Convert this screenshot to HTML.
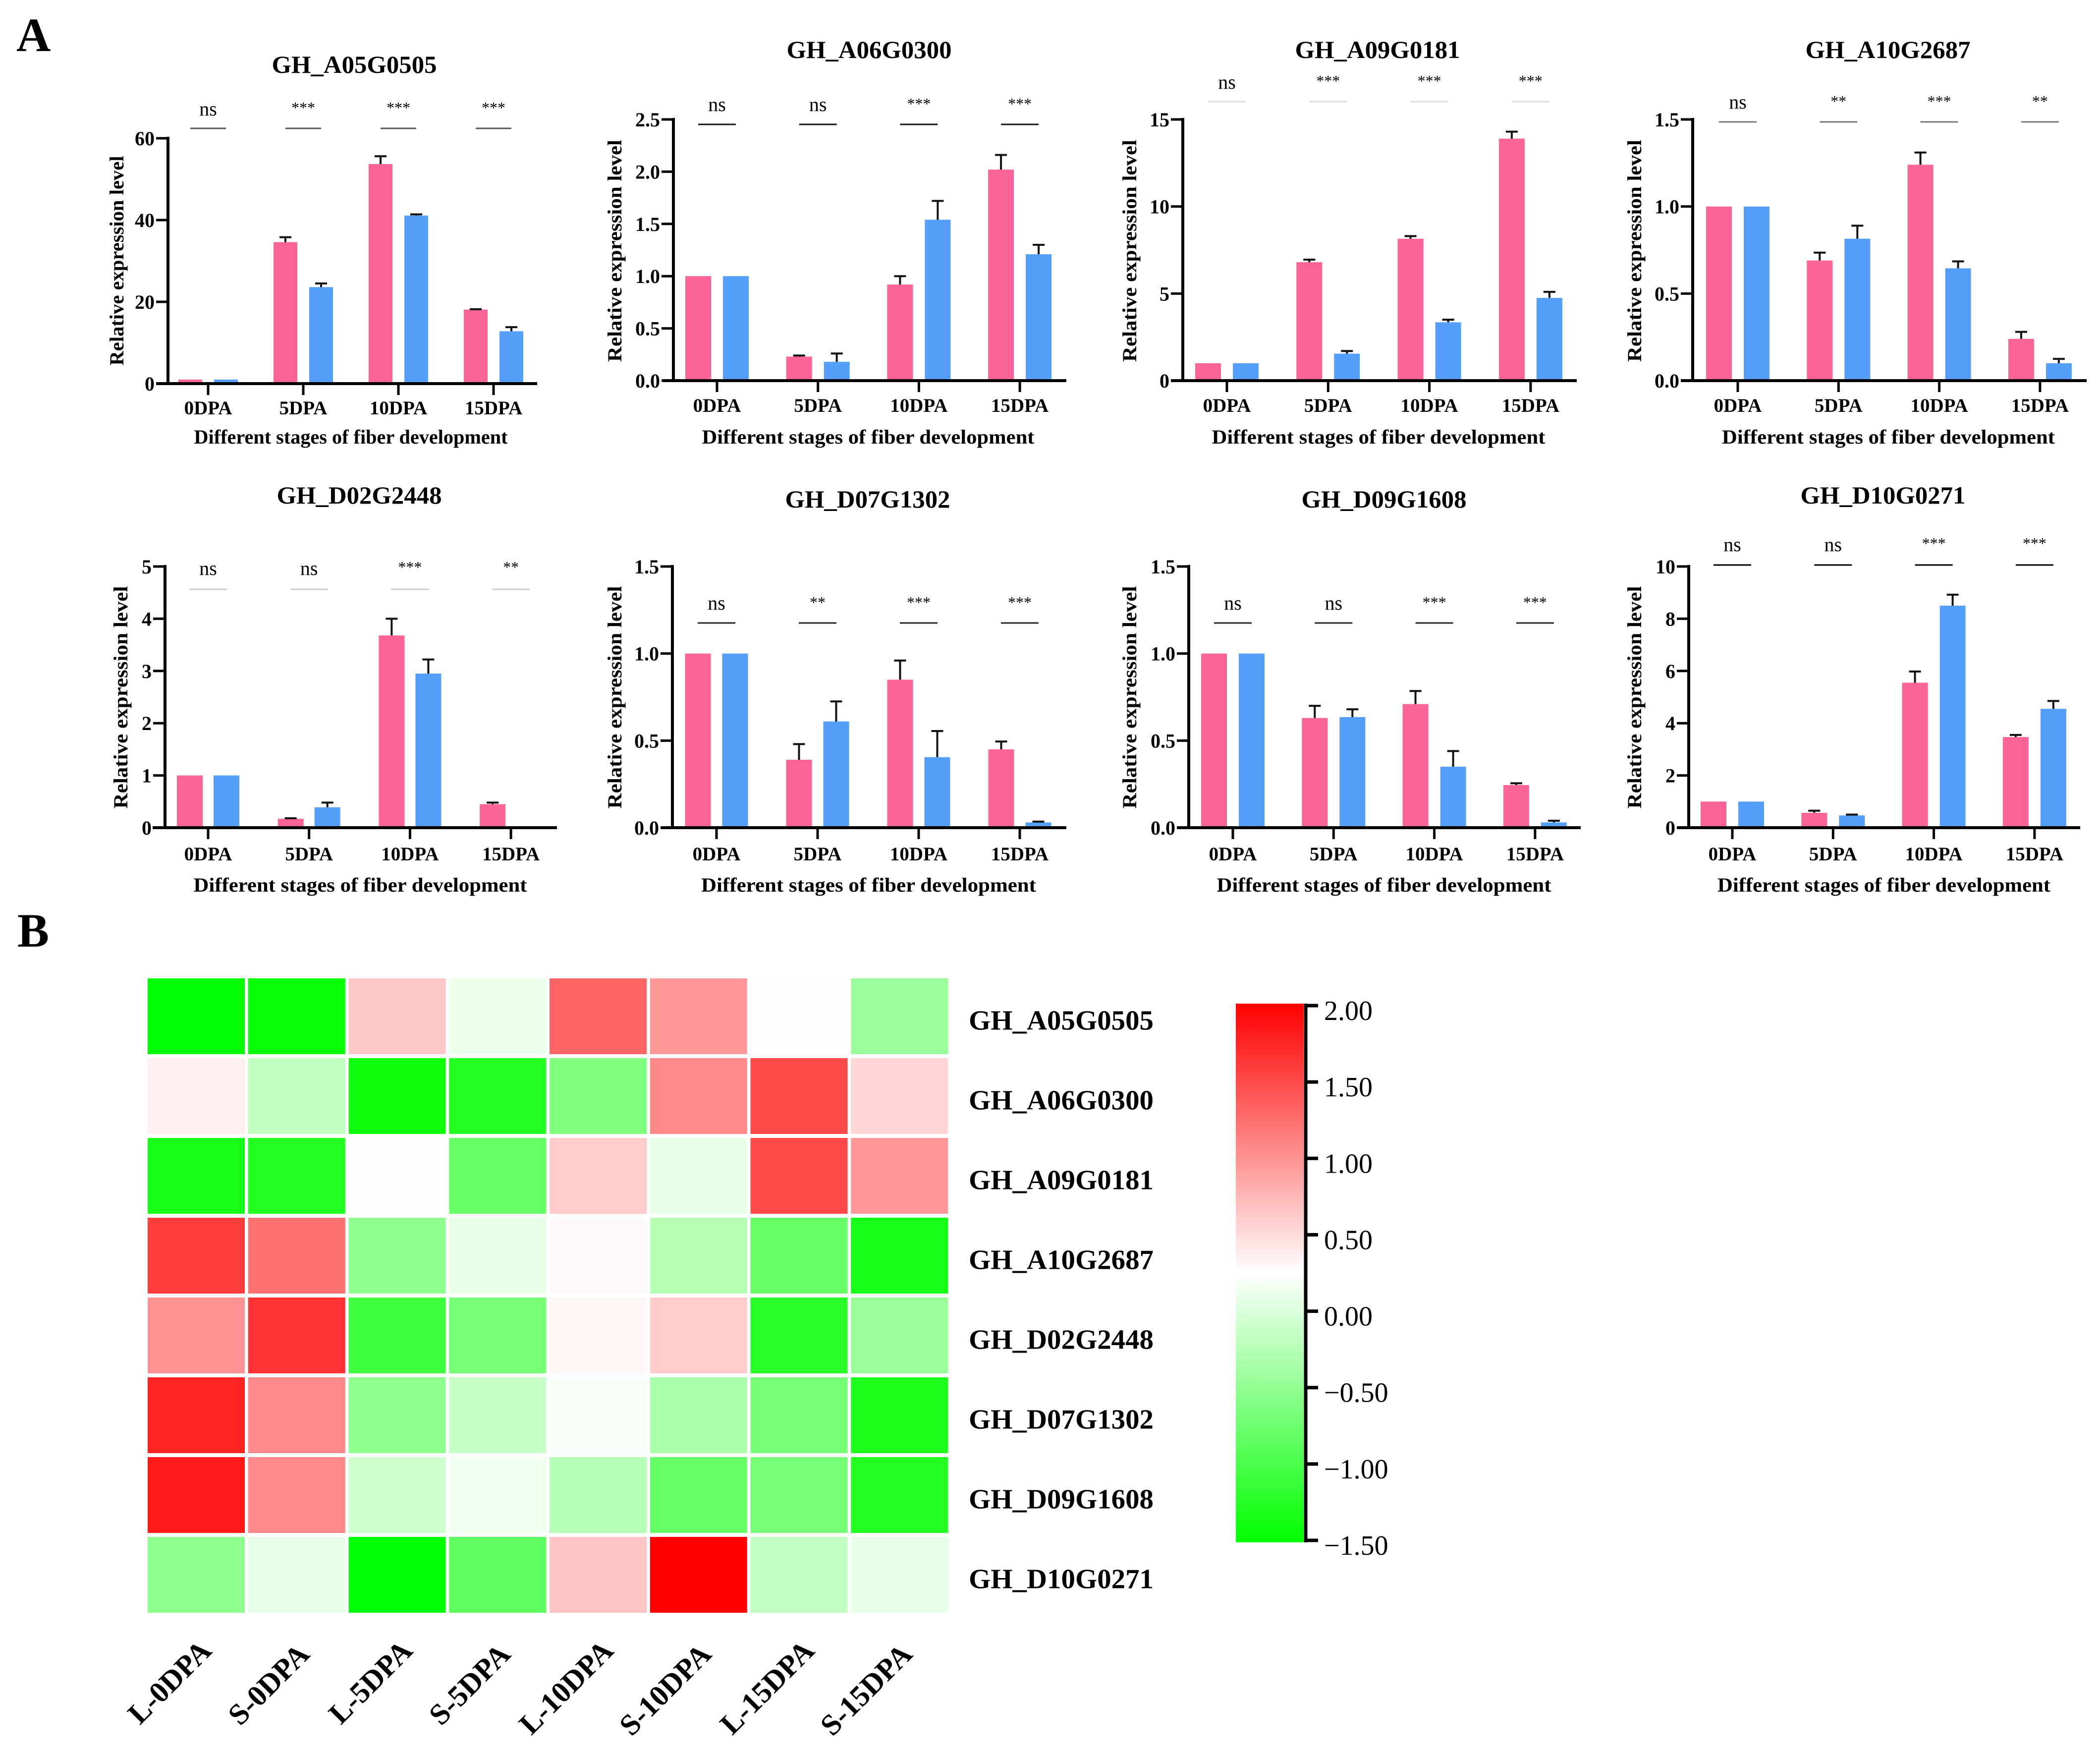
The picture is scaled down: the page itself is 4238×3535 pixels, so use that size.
<!DOCTYPE html>
<html lang="en">
<head>
<meta charset="utf-8">
<title>Relative expression of fiber development genes</title>
<style>
html,body{margin:0;padding:0;background:#fff;}
svg{display:block;}
text{font-family:"Liberation Serif","Times New Roman",serif;fill:#000;}
</style>
</head>
<body>
<svg id="figure" xmlns="http://www.w3.org/2000/svg" width="4238" height="3535" viewBox="0 0 4238 3535">
  <defs>
    <linearGradient id="cbar" x1="0" y1="0" x2="0" y2="1">
      <stop offset="0" stop-color="#ff0000"/>
      <stop offset="0.5" stop-color="#ffffff"/>
      <stop offset="1" stop-color="#00ff00"/>
    </linearGradient>
  </defs>
  <rect x="0" y="0" width="4238" height="3535" fill="#fff"/>
  <text x="33" y="103" font-size="96" font-weight="700">A</text>
  <text x="35" y="1910" font-size="96" font-weight="700">B</text>
  <g id="bars"></g>
  <g id="heatmap"></g>
  <g id="colorbar">
    <rect x="2494" y="2025" width="137" height="1087" fill="url(#cbar)"/>
  </g>
</svg>
<script>
// ---- Bar chart data ----
var categories = ['0DPA', '5DPA', '10DPA', '15DPA'];
var geneTitles = ['GH_A05G0505', 'GH_A06G0300', 'GH_A09G0181', 'GH_A10G2687', 'GH_D02G2448', 'GH_D07G1302', 'GH_D09G1608', 'GH_D10G0271'];
var yTickLabels = [
  ['0', '20', '40', '60'],
  ['0.0', '0.5', '1.0', '1.5', '2.0', '2.5'],
  ['0', '5', '10', '15'],
  ['0.0', '0.5', '1.0', '1.5'],
  ['0', '1', '2', '3', '4', '5'],
  ['0.0', '0.5', '1.0', '1.5'],
  ['0.0', '0.5', '1.0', '1.5'],
  ['0', '2', '4', '6', '8', '10']
];
var longFiberValues = [
  [1, 34.6, 53.7, 18.1],
  [1, 0.23, 0.92, 2.02],
  [1, 6.8, 8.15, 13.9],
  [1, 0.69, 1.24, 0.24],
  [1, 0.17, 3.68, 0.45],
  [1, 0.39, 0.85, 0.45],
  [1, 0.63, 0.71, 0.245],
  [1, 0.57, 5.55, 3.47]
];
var shortFiberValues = [
  [1, 23.6, 41.1, 12.8],
  [1, 0.18, 1.54, 1.21],
  [1, 1.55, 3.35, 4.75],
  [1, 0.815, 0.645, 0.1],
  [1, 0.39, 2.95, 0],
  [1, 0.61, 0.405, 0.03],
  [1, 0.635, 0.35, 0.03],
  [1, 0.47, 8.5, 4.55]
];
var longFiberErrors = [
  [0, 1.2, 1.9, 0.1],
  [0, 0.01, 0.08, 0.14],
  [0, 0.15, 0.15, 0.4],
  [0, 0.045, 0.07, 0.04],
  [0, 0.01, 0.32, 0.03],
  [0, 0.09, 0.11, 0.045],
  [0, 0.07, 0.075, 0.01],
  [0, 0.08, 0.43, 0.08]
];
var shortFiberErrors = [
  [0, 0.9, 0.3, 1.0],
  [0, 0.08, 0.18, 0.09],
  [0, 0.15, 0.15, 0.35],
  [0, 0.075, 0.04, 0.025],
  [0, 0.09, 0.27, 0],
  [0, 0.115, 0.15, 0.005],
  [0, 0.045, 0.09, 0.01],
  [0, 0.03, 0.42, 0.3]
];
var significance = [
  ['ns', '***', '***', '***'],
  ['ns', 'ns', '***', '***'],
  ['ns', '***', '***', '***'],
  ['ns', '**', '***', '**'],
  ['ns', 'ns', '***', '**'],
  ['ns', '**', '***', '***'],
  ['ns', 'ns', '***', '***'],
  ['ns', 'ns', '***', '***']
];
var xAxisTitle = 'Different stages of fiber development';
var yAxisTitle = 'Relative expression level';

// ---- Heatmap data ----
var heatGenes = ['GH_A05G0505', 'GH_A06G0300', 'GH_A09G0181', 'GH_A10G2687', 'GH_D02G2448', 'GH_D07G1302', 'GH_D09G1608', 'GH_D10G0271'];
var heatSamples = ['L-0DPA', 'S-0DPA', 'L-5DPA', 'S-5DPA', 'L-10DPA', 'S-10DPA', 'L-15DPA', 'S-15DPA'];
var heatValues = [
  [-1.5, -1.46, 0.63, 0.11, 1.31, 0.95, 0.27, -0.45],
  [0.36, -0.18, -1.4, -1.28, -0.62, 1.07, 1.49, 0.54],
  [-1.35, -1.28, 0.26, -0.8, 0.6, 0.08, 1.5, 0.95],
  [1.58, 1.22, -0.52, 0.08, 0.3, -0.26, -0.8, -1.35],
  [1.0, 1.65, -1.06, -0.68, 0.31, 0.6, -1.22, -0.45],
  [1.77, 1.07, -0.52, -0.13, 0.2, -0.33, -0.68, -1.3],
  [1.82, 1.07, -0.1, 0.15, -0.25, -0.8, -0.68, -1.25],
  [-0.52, 0.08, -1.5, -0.85, 0.65, 2.0, -0.17, 0.08]
];
var colorbarLabels = ['2.00', '1.50', '1.00', '0.50', '0.00', '\u22120.50', '\u22121.00', '\u22121.50'];

// ---- Layout (not data) ----
function panelBox(axisX, yTop, y0, axisL, axisR, tick0, step, barW, off, lineY, nsY, starY, lineHalf, lineColor, titleX, titleY, xlabX, xlabLen, xlabY, tickY, ylabX, ylabY, ylabLen) {
  return {axisX:axisX, yTop:yTop, y0:y0, axisL:axisL, axisR:axisR, tick0:tick0, step:step, barW:barW, off:off, lineY:lineY, nsY:nsY, starY:starY, lineHalf:lineHalf, lineColor:lineColor, titleX:titleX, titleY:titleY, xlabX:xlabX, xlabLen:xlabLen, xlabY:xlabY, tickY:tickY, ylabX:ylabX, ylabY:ylabY, ylabLen:ylabLen};
}
var panelBoxes = [
  panelBox(339, 279, 774, 315, 1084, 420, 192, 48, 36, 259, 224, 214, 36, '#555', 715, 147, 708, 633, 895, 836, 249, 526, 423),
  panelBox(1359, 241, 768, 1338, 2152, 1447, 203.7, 52, 38, 251, 215, 206, 38, '#111', 1754, 117, 1752, 671, 895, 831, 1254, 506, 448),
  panelBox(2387, 241, 768, 2363, 3182, 2476, 204.3, 52, 38, 205, 170, 160, 38, '#ddd', 2780, 117, 2782, 673, 895, 831, 2293, 506, 448),
  panelBox(3416, 241, 768, 3392, 4211, 3507, 203.3, 52, 38, 246, 210, 201, 38, '#777', 3810, 117, 3811, 672, 895, 831, 3312, 506, 448),
  panelBox(333, 1143, 1670, 308, 1124, 420, 203.7, 52, 37, 1189, 1151, 1141, 38, '#ccc', 725, 1016, 727, 673, 1799, 1736, 257, 1407, 449),
  panelBox(1357, 1143, 1670, 1334, 2152, 1446, 204, 52, 37.5, 1257, 1221, 1212, 38, '#222', 1751, 1024, 1753, 676, 1799, 1736, 1254, 1407, 449),
  panelBox(2399, 1143, 1670, 2376, 3190, 2488, 203.3, 52, 38, 1257, 1221, 1212, 38, '#222', 2793, 1024, 2793, 675, 1799, 1736, 2293, 1407, 449),
  panelBox(3408, 1143, 1670, 3384, 4198, 3496, 203.3, 52, 38, 1140, 1103, 1093, 38, '#000', 3800, 1016, 3802, 672, 1799, 1736, 3312, 1407, 449)
];
var PINK = '#fb6497';
var BLUE = '#559ffb';
var NS = 'http://www.w3.org/2000/svg';

function mk(tag, parent, attrs) {
  var el = document.createElementNS(NS, tag);
  for (var k in attrs) { el.setAttribute(k, attrs[k]); }
  parent.appendChild(el);
  return el;
}

var barsRoot = document.getElementById('bars');

function drawPanel(p) {
  var box = panelBoxes[p];
  var labels = yTickLabels[p];
  var yMax = parseFloat(labels[labels.length - 1]);
  function yScale(v) { return box.y0 - (v / yMax) * (box.y0 - box.yTop); }
  function xScale(i) { return box.tick0 + i * box.step; }

  var g = mk('g', barsRoot, {});
  
  

  var title = mk('text', g, {x: box.titleX, y: box.titleY, 'font-size': 50, 'font-weight': 700, 'text-anchor': 'middle', textLength: 333, lengthAdjust: 'spacingAndGlyphs'});
  title.textContent = geneTitles[p];
  
  

  categories.forEach(function (cat, i) {
    var cx = xScale(i);
    var pairs = [
      {v: longFiberValues[p][i], e: longFiberErrors[p][i], c: PINK, x: cx - box.off},
      {v: shortFiberValues[p][i], e: shortFiberErrors[p][i], c: BLUE, x: cx + box.off}
    ];
    pairs.forEach(function (d, s) {
      var top = yScale(d.v);
      var bar = mk('rect', g, {x: d.x - box.barW / 2, y: top, width: box.barW, height: box.y0 - top, fill: d.c});
      
      
      if (d.e > 0) {
        var errTop = yScale(d.v + d.e);
        var stem = mk('line', g, {x1: d.x, x2: d.x, y1: top, y2: errTop, stroke: '#111', 'stroke-width': 4});
        
        
        var cap = mk('line', g, {x1: d.x - 12, x2: d.x + 12, y1: errTop, y2: errTop, stroke: '#111', 'stroke-width': 4});
        
        
      }
    });

    var tick = mk('line', g, {x1: cx, x2: cx, y1: box.y0, y2: box.y0 + 23, stroke: '#000', 'stroke-width': 5});
    
    

    var lab = mk('text', g, {x: cx, y: box.tickY, 'font-size': 39, 'font-weight': 700, 'text-anchor': 'middle'});
    lab.textContent = cat;
    
    

    var sigLine = mk('line', g, {x1: cx - box.lineHalf, x2: cx + box.lineHalf, y1: box.lineY, y2: box.lineY, stroke: box.lineColor, 'stroke-width': 3});
    
    

    var sigText = significance[p][i];
    var isNs = sigText === 'ns';
    var sig = mk('text', g, {x: cx, y: isNs ? box.nsY + 9 : box.starY + 14, 'font-size': isNs ? 40 : 32, 'text-anchor': 'middle'});
    sig.textContent = sigText;
    
    
  });

  labels.forEach(function (t) {
    var y = yScale(parseFloat(t));
    var yt = mk('line', g, {x1: box.axisX - 24, x2: box.axisX, y1: y, y2: y, stroke: '#000', 'stroke-width': 5});
    
    
    var yl = mk('text', g, {x: box.axisX - 27, y: y + 14, 'font-size': 40, 'font-weight': 700, 'text-anchor': 'end'});
    yl.textContent = t;
    
    
  });

  var yAxis = mk('line', g, {x1: box.axisX, x2: box.axisX, y1: box.yTop - 3, y2: box.y0 + 3, stroke: '#000', 'stroke-width': 6});
  
  
  var xAxis = mk('line', g, {x1: box.axisL, x2: box.axisR, y1: box.y0, y2: box.y0, stroke: '#000', 'stroke-width': 6});
  
  

  var xt = mk('text', g, {x: box.xlabX, y: box.xlabY, 'font-size': 40, 'font-weight': 700, 'text-anchor': 'middle', textLength: box.xlabLen, lengthAdjust: 'spacingAndGlyphs'});
  xt.textContent = xAxisTitle;
  
  

  var yTitle = mk('text', g, {x: 0, y: 0, transform: 'translate(' + box.ylabX + ',' + box.ylabY + ') rotate(-90)', 'font-size': 40, 'font-weight': 700, 'text-anchor': 'middle', textLength: box.ylabLen, lengthAdjust: 'spacingAndGlyphs'});
  yTitle.textContent = yAxisTitle;
  
  
}
geneTitles.forEach(function (_, p) { drawPanel(p); });

// ---- Heatmap ----
var heatRoot = document.getElementById('heatmap');
var HEAT_X = 298, HEAT_Y = 1974, COL_STEP = 202.75, ROW_STEP = 161, CELL_W = 196, CELL_H = 153;
var HEAT_MIN = -1.5, HEAT_MID = 0.25, HEAT_MAX = 2;
function heatColor(v) {
  var t, c;
  if (v >= HEAT_MID) {
    t = Math.min(1, (v - HEAT_MID) / (HEAT_MAX - HEAT_MID));
    c = Math.round(255 * (1 - t));
    return 'rgb(255,' + c + ',' + c + ')';
  }
  t = Math.min(1, (HEAT_MID - v) / (HEAT_MID - HEAT_MIN));
  c = Math.round(255 * (1 - t));
  return 'rgb(' + c + ',255,' + c + ')';
}
heatValues.forEach(function (row, r) {
  row.forEach(function (v, c) {
    var cell = mk('rect', heatRoot, {x: HEAT_X + c * COL_STEP, y: HEAT_Y + r * ROW_STEP, width: CELL_W, height: CELL_H, fill: heatColor(v)});
    
    
  });
});
heatGenes.forEach(function (name, r) {
  var t = mk('text', heatRoot, {x: 1955, y: HEAT_Y + r * ROW_STEP + CELL_H / 2 + 27, 'font-size': 56, 'font-weight': 700, textLength: 373, lengthAdjust: 'spacingAndGlyphs'});
  t.textContent = name;
  
  
});
heatSamples.forEach(function (name, c) {
  var cx = HEAT_X + c * COL_STEP + CELL_W / 2;
  var isLong = name.charAt(0) === 'L';
  var ex = cx + (isLong ? 34 : 29);
  var ey = isLong ? 3334 : 3341;
  var t = mk('text', heatRoot, {x: 0, y: 0, transform: 'translate(' + ex + ',' + ey + ') rotate(-45)', 'font-size': 60, 'font-weight': 700, 'text-anchor': 'end'});
  t.textContent = name;
  
  
});

// ---- Colorbar ----
var cbRoot = document.getElementById('colorbar');
var CB_TOP = 2029, CB_BOTTOM = 3108;
function cbScale(v) { return CB_BOTTOM - ((v - HEAT_MIN) / (HEAT_MAX - HEAT_MIN)) * (CB_BOTTOM - CB_TOP); }
var cbAxis = mk('line', cbRoot, {x1: 2635, x2: 2635, y1: CB_TOP - 4, y2: CB_BOTTOM + 4, stroke: '#000', 'stroke-width': 7});


colorbarLabels.forEach(function (label) {
  var v = parseFloat(label.replace('\u2212', '-'));
  var y = cbScale(v);
  var tick = mk('line', cbRoot, {x1: 2632, x2: 2660, y1: y, y2: y, stroke: '#000', 'stroke-width': 7});
  
  
  var txt = mk('text', cbRoot, {x: 2672, y: y + 29, 'font-size': 56});
  txt.textContent = label;
  
  
});
</script>
</body>
</html>
